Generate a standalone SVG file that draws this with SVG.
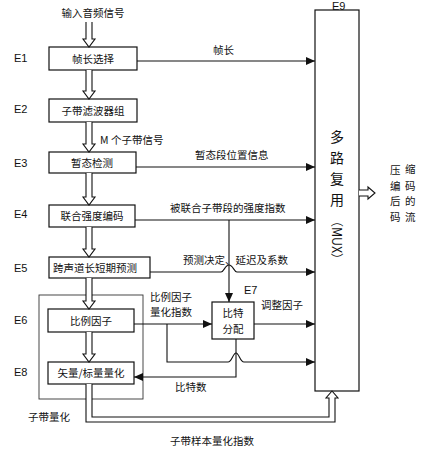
<svg xmlns="http://www.w3.org/2000/svg" width="423" height="450" viewBox="0 0 423 450">
<style>
.box{fill:#fff;stroke:#111;stroke-width:1.2}
.grp{fill:none;stroke:#333;stroke-width:0.9}
.ln{fill:none;stroke:#111;stroke-width:1.1}
.dbl{fill:#fff;stroke:#111;stroke-width:1.1;stroke-linejoin:miter}
.t{font-family:"Noto Sans CJK SC","Liberation Sans",sans-serif;font-size:10.5px;fill:#111}
.c{text-anchor:middle}
.e{font-family:"Liberation Sans","DejaVu Sans",sans-serif;font-size:11px;fill:#111}
.m{font-family:"Noto Sans CJK SC",sans-serif;font-size:14px;fill:#111;text-anchor:middle}
</style>
<defs>
<marker id="ah" markerWidth="9" markerHeight="8" refX="9" refY="4" orient="auto" markerUnits="userSpaceOnUse">
<path d="M0,0 L9,4 L0,8 Z" fill="#111"/>
</marker>
</defs>
<g id="labels">
<text class="t c" x="93" y="17">输入音频信号</text>
<text class="e" x="14" y="62">E1</text>
<text class="e" x="14" y="113">E2</text>
<text class="e" x="14" y="167">E3</text>
<text class="e" x="14" y="218">E4</text>
<text class="e" x="14" y="272">E5</text>
<text class="e" x="14" y="324">E6</text>
<text class="e" x="14" y="376">E8</text>
<text class="e" x="332" y="10">E9</text>
<text class="e" x="244" y="294">E7</text>
<text class="t" x="100" y="144">M 个子带信号</text>
<text class="t" x="213" y="54">帧长</text>
<text class="t" x="195" y="159">暂态段位置信息</text>
<text class="t" x="170" y="212">被联合子带段的强度指数</text>
<text class="t" x="183" y="264">预测决定、延迟及系数</text>
<text class="t" x="150" y="301">比例因子</text>
<text class="t" x="150" y="316">量化指数</text>
<text class="t" x="261" y="309">调整因子</text>
<text class="t" x="175" y="391">比特数</text>
<text class="t" x="28" y="421">子带量化</text>
<text class="t" x="170" y="445">子带样本量化指数</text>
<text class="t" x="390" y="174">压</text><text class="t" x="405" y="173">缩</text>
<text class="t" x="390" y="190">编</text><text class="t" x="405" y="190">码</text>
<text class="t" x="390" y="205">后</text><text class="t" x="405" y="205">的</text>
<text class="t" x="390" y="221">码</text><text class="t" x="405" y="221">流</text>
</g>
<g id="E6-E8-group"><rect class="grp" x="39" y="295" width="104" height="104"/></g>
<g id="E1"><rect class="box" x="49" y="47" width="88" height="23"/><text class="t c" x="93" y="62.5">帧长选择</text></g>
<g id="E2"><rect class="box" x="49" y="99" width="88" height="23"/><text class="t c" x="93" y="114.5">子带滤波器组</text></g>
<g id="E3"><rect class="box" x="49" y="152" width="87" height="21"/><text class="t c" x="92" y="166.5">暂态检测</text></g>
<g id="E4"><rect class="box" x="49" y="205" width="86" height="22"/><text class="t c" x="92" y="220">联合强度编码</text></g>
<g id="E5"><rect class="box" x="49" y="257" width="101" height="21"/><text class="t c" x="95" y="271.5">跨声道长短期预测</text></g>
<g id="E6"><rect class="box" x="48" y="309" width="86" height="23"/><text class="t c" x="91" y="324.5">比例因子</text></g>
<g id="E8"><rect class="box" x="48" y="362" width="86" height="22"/><text class="t c" x="91" y="377">矢量/标量量化</text></g>
<g id="E7"><rect class="box" x="212" y="302" width="42" height="37"/><text class="t c" x="233" y="317">比特</text><text class="t c" x="233" y="333">分配</text></g>
<g id="E9"><rect class="box" x="315" y="10" width="44" height="381"/>
<text class="m" x="337" y="142">多</text>
<text class="m" x="337" y="163">路</text>
<text class="m" x="337" y="184">复</text>
<text class="m" x="337" y="205">用</text>
<text class="m" transform="translate(332,240) rotate(90)" x="0" y="0" style="font-size:12.5px">（MUX）</text>
</g>
<g id="connectors">
<path class="dbl" d="M86 22 V39 H83 L89 47 L95 39 H92 V22"/>
<path class="dbl" d="M86 70 V91 H83 L89 99 L95 91 H92 V70"/>
<path class="dbl" d="M86 122 V144 H83 L89 152 L95 144 H92 V122"/>
<path class="dbl" d="M86 173 V197 H83 L89 205 L95 197 H92 V173"/>
<path class="dbl" d="M86 227 V249 H83 L89 257 L95 249 H92 V227"/>
<path class="dbl" d="M86 278 V301 H83 L89 309 L95 301 H92 V278"/>
<path class="dbl" d="M86 332 V354 H83 L89 362 L95 354 H92 V332"/>
<path class="dbl" d="M359 190 H368 V187 L375 193 L368 199 V196 H359"/>
<path class="dbl" d="M86 384 V422 H335 V398 H338 L332 391 L326 398 H329 V417 H92 V384"/>
<path class="ln" d="M137 61 H315" marker-end="url(#ah)"/>
<path class="ln" d="M136 167 H315" marker-end="url(#ah)"/>
<path class="ln" d="M135 220 H315" marker-end="url(#ah)"/>
<path class="ln" d="M150 272 H221 C224 272 225 265 229 265 C233 265 234 272 237 272 H315" marker-end="url(#ah)"/>
<path class="ln" d="M229 220 V302" marker-end="url(#ah)"/>
<path class="ln" d="M134 324 H212" marker-end="url(#ah)"/>
<path class="ln" d="M254 324 H315" marker-end="url(#ah)"/>
<path class="ln" d="M167 324 V362 H228 C232 362 233 353 236 353 C239 353 240 362 244 362 H315" marker-end="url(#ah)"/>
<path class="ln" d="M236 339 V377 H134" marker-end="url(#ah)"/>
</g>
</svg>
